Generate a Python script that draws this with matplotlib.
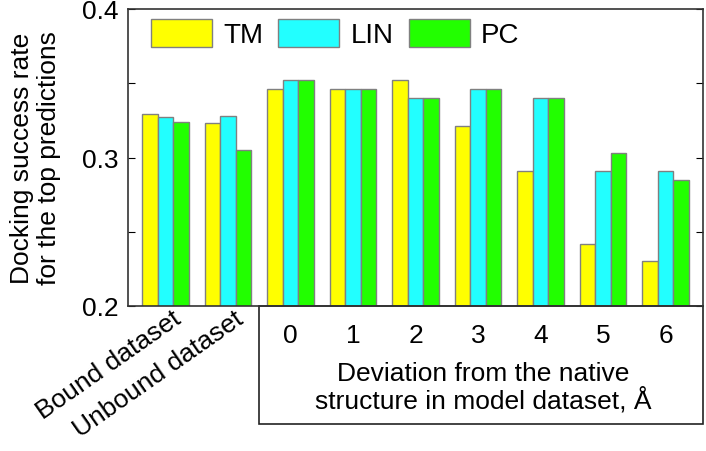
import numpy as np
import matplotlib
matplotlib.use('Agg')
import matplotlib.pyplot as plt
from matplotlib.patches import Rectangle
import matplotlib.transforms as mtransforms

plt.rcParams['font.family'] = ['Liberation Sans', 'DejaVu Sans']

# Data
groups = ['Bound dataset', 'Unbound dataset', '0', '1', '2', '3', '4', '5', '6']
tm = [0.329, 0.323, 0.346, 0.346, 0.352, 0.321, 0.291, 0.242, 0.230]
lin = [0.327, 0.328, 0.352, 0.346, 0.340, 0.346, 0.340, 0.291, 0.291]
pc = [0.324, 0.305, 0.352, 0.346, 0.340, 0.346, 0.340, 0.303, 0.285]
series_names = ['TM', 'LIN', 'PC']
colors = ['#FFFF00', '#22FFFF', '#22FF00']

fig = plt.figure(figsize=(7.06, 4.52), dpi=100)
ax = fig.add_axes([128 / 706, (452 - 307) / 452, 575 / 706, 297 / 452])

x = np.arange(len(groups))
w = 0.25
for i, (vals, name, c) in enumerate(zip([tm, lin, pc], series_names, colors)):
    ax.bar(x + (i - 1) * w, vals, width=w, color=c, edgecolor='#808080',
           linewidth=1.0, label=name)

ax.set_xlim(-0.6, 8.6)
ax.set_ylim(0.2, 0.4)
ax.set_yticks([0.2, 0.25, 0.3, 0.35, 0.4])
ax.set_yticklabels(['0.2', '', '0.3', '', '0.4'])
ax.tick_params(axis='y', direction='in', right=True, length=5, labelsize=19, pad=7)
ax.set_xticks(x[2:])
ax.set_xticklabels(groups[2:])
ax.tick_params(axis='x', length=0, labelsize=19, pad=12)
for s in ax.spines.values():
    s.set_linewidth(1.2)
    s.set_color('#333333')

ax.set_ylabel('Docking success rate\nfor the top predictions', fontsize=19,
              linespacing=1.15, labelpad=15)

trans = mtransforms.blended_transform_factory(ax.transData, ax.transAxes)

# rotated category labels for the first two groups
for xi in x[:2]:
    ax.text(xi + 0.1, 0.0, groups[xi], transform=trans,
            rotation=35, ha='right', va='top', rotation_mode='anchor', fontsize=19)

# box around the model-dataset group
box = Rectangle((1.5, -0.397), 7.1, 0.397, transform=trans, fill=False,
                edgecolor='#222222', linewidth=1.2, clip_on=False)
ax.add_patch(box)
ax.text(5.08, -0.185, 'Deviation from the native\nstructure in model dataset, Å',
        transform=trans, ha='center', va='top', fontsize=19, linespacing=1.05)

ax.legend(loc='upper left', bbox_to_anchor=(0.03, 0.985), ncol=3, frameon=False,
          fontsize=20, handlelength=2.2, handleheight=1.15, handletextpad=0.4,
          columnspacing=0.55, borderaxespad=0, borderpad=0.2)

fig.savefig('out.png', dpi=100)
